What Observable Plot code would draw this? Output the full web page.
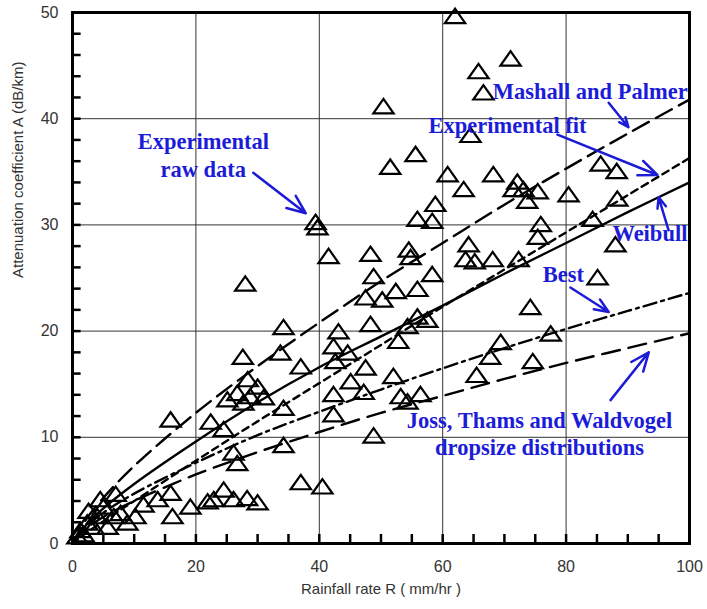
<!DOCTYPE html>
<html>
<head>
<meta charset="utf-8">
<script src="https://cdn.jsdelivr.net/npm/d3@7"></script>
<script src="https://cdn.jsdelivr.net/npm/@observablehq/plot@0.6"></script>
<style>
  html, body { margin: 0; padding: 0; background: #fff; }
  #chart { width: 707px; height: 609px; }
</style>
</head>
<body>
<div id="chart"></div>
<script>
// ---- Model curves (rainfall rate R in mm/hr, attenuation A in dB/km) ----
const rainRate      = [0, 2, 5, 10, 20, 30, 40, 50, 60, 70, 80, 90, 100];
const mashallPalmer = [0, 2.1, 4.3, 7.3, 12.3, 16.7, 20.8, 24.7, 28.3, 31.9, 35.3, 38.6, 41.8];
const experimentalFit = [0, 0.9, 2.1, 4.0, 7.8, 11.5, 15.1, 18.7, 22.3, 25.8, 29.3, 32.8, 36.3];
const weibull       = [0, 1.6, 3.3, 5.6, 9.6, 13.3, 16.6, 19.5, 22.4, 25.4, 28.3, 31.2, 34.0];
const best          = [0, 1.5, 2.9, 4.7, 7.6, 10.2, 12.4, 14.5, 16.5, 18.4, 20.2, 21.9, 23.6];
const jossThams     = [0, 1.3, 2.5, 4.0, 6.5, 8.6, 10.5, 12.3, 13.9, 15.5, 17.0, 18.4, 19.8];

// ---- Experimental raw data (triangles) ----
const rawR = [62, 71, 65.8, 66.6, 50.4, 64.5, 55.6, 51.5, 60.8, 63.4, 68.2, 72.1, 71.5, 73.1, 75.4, 73.7,
  85.6, 88.2, 58.8, 58.3, 55.9, 75.9, 75.4, 80.4, 84.3, 88.3, 88.0, 85.1, 54.5, 54.8, 64.2, 63.7, 65.2,
  68.1, 72.3, 58.3, 55.9, 52.4, 50.2, 74.2, 55.9, 57.5, 54.3, 69.4, 77.5, 67.7, 74.6, 65.5,
  39.4, 39.7, 41.5, 48.3, 48.8, 47.5, 48.3, 43.1, 52.8, 42.3, 44.6, 42.6, 47.5, 52.0, 34.2, 33.7, 37.0,
  28.0, 27.6, 45.1, 47.2, 42.3, 42.3, 48.8, 28.4, 30.0, 26.7, 28.8, 31.0, 27.7, 34.2, 25.1, 22.4, 24.5,
  37.0, 40.5, 34.2, 54.3, 56.4, 53.2, 15.9, 26.1, 26.7, 24.5, 22.9, 26.1, 28.3, 30.0, 21.9, 19.1, 16.2,
  15.9, 11.5, 10.2, 13.8, 5.0, 4.0, 2.4, 1.3, 3.4, 5.7, 6.7, 7.8, 8.9, 4.5, 0.8, 1.8, 7.0, 2.6];
const rawA = [49.6, 45.6, 44.4, 42.4, 41.1, 38.4, 36.6, 35.4, 34.7, 33.3, 34.7, 34.0, 33.3, 33.3, 33.1, 32.2,
  35.7, 35.0, 31.9, 30.3, 30.5, 30.0, 28.8, 32.8, 30.5, 32.4, 28.1, 25.0, 27.6, 26.9, 28.1, 26.7, 26.5,
  26.7, 26.7, 25.3, 23.9, 23.7, 22.9, 22.2, 21.3, 21.0, 20.4, 18.9, 19.7, 17.5, 17.1, 15.8,
  30.2, 29.7, 27.0, 27.2, 25.1, 23.1, 20.6, 19.9, 19.0, 18.5, 17.9, 17.1, 16.5, 15.7, 20.3, 17.9, 16.6,
  24.4, 17.5, 15.2, 14.2, 14.0, 12.1, 10.1, 15.4, 14.7, 14.1, 13.8, 13.7, 13.2, 12.7, 13.5, 11.4, 10.7,
  5.7, 5.3, 9.2, 13.3, 14.0, 13.8, 11.6, 8.5, 7.5, 5.0, 4.1, 4.1, 4.2, 3.8, 3.9, 3.4, 2.5,
  4.7, 3.6, 2.5, 4.1, 3.4, 2.5, 1.9, 1.2, 1.5, 1.5, 2.5, 2.8, 1.9, 4.1, 0.6, 0.8, 4.6, 3.0];

// ---- Axis ticks ----
const xTicks = [0, 20, 40, 60, 80, 100];
const yTicks = [0, 10, 20, 30, 40, 50];
const xMinorTicks = d3.range(5, 100, 5);
const yMinorTicks = d3.range(2, 50, 2);

// ---- Annotations ----
const labelText = ["Experimental", "raw data", "Mashall and Palmer", "Experimental fit", "Weibull", "Best",
  "Joss, Thams and Waldvogel", "dropsize distributions"];
const labelX = [21.2, 21.2, 68.1, 57.7, 87.5, 76.2, 75.7, 75.7];
const labelY = [37.8, 35.2, 42.5, 39.3, 29.2, 25.3, 11.6, 9.0];
const labelAnchor = ["middle", "middle", "start", "start", "start", "start", "middle", "middle"];
const arrowX1 = [29.3, 86.9, 78.6, 96.6, 80.7, 87.2];
const arrowY1 = [34.9, 41.5, 38.5, 29.5, 24.1, 13.5];
const arrowX2 = [37.8, 90.1, 94.8, 95.0, 86.9, 93.4];
const arrowY2 = [31.1, 39.2, 34.7, 32.6, 21.8, 18.0];

// ---- Build tables ----
const curve = (vals) => rainRate.map((r, i) => ({R: r, A: vals[i]}));
const rawData = rawR.map((r, i) => ({R: r, A: rawA[i]}));
const labels = labelText.map((t, i) => ({t, x: labelX[i], y: labelY[i], a: labelAnchor[i]}));
const arrows = arrowX1.map((x1, i) => ({x1, y1: arrowY1[i], x2: arrowX2[i], y2: arrowY2[i]}));

const blue = "#1c1cd8";
const triangle = {
  draw(ctx, size) {
    const r = Math.sqrt(size / Math.PI);
    ctx.moveTo(0, -r * 1.15);
    ctx.lineTo(r * 1.45, r * 0.9);
    ctx.lineTo(-r * 1.45, r * 0.9);
    ctx.closePath();
  }
};

const lineOpts = {x: "R", y: "A", stroke: "black", strokeWidth: 2.4, curve: "catmull-rom"};
const labelFont = {fill: blue, fontFamily: "Liberation Serif, Times New Roman, serif", fontWeight: "bold", fontSize: 22.5};

const chart = Plot.plot({
  width: 707,
  height: 609,
  marginLeft: 72,
  marginRight: 18,
  marginTop: 12,
  marginBottom: 66,
  x: {domain: [0, 100]},
  y: {domain: [0, 50]},
  style: {background: "white", fontFamily: "Liberation Sans, Arial, sans-serif"},
  marks: [
    Plot.gridX(xTicks.slice(1, -1), {stroke: "#333", strokeOpacity: 1, strokeWidth: 1}),
    Plot.gridY(yTicks.slice(1, -1), {stroke: "#333", strokeOpacity: 1, strokeWidth: 1}),
    Plot.axisX(xTicks, {tickSize: 0, tickPadding: 17, fontSize: 16, fill: "#333", label: null}),
    Plot.axisY(yTicks, {tickSize: 0, tickPadding: 14, fontSize: 16, fill: "#333", label: null}),
    Plot.line(curve(mashallPalmer), {...lineOpts, strokeDasharray: "18,8"}),
    Plot.line(curve(experimentalFit), {...lineOpts, strokeDasharray: "7,5"}),
    Plot.line(curve(weibull), {...lineOpts}),
    Plot.line(curve(best), {...lineOpts, strokeDasharray: "13,5,3,5"}),
    Plot.line(curve(jossThams), {...lineOpts, strokeDasharray: "18,9"}),
    Plot.dot(rawData, {x: "R", y: "A", symbol: triangle, r: 7, stroke: "black", strokeWidth: 2.2, fill: "none"}),
    Plot.frame({stroke: "black", strokeWidth: 3}),
    // inward minor ticks
    Plot.ruleX(xMinorTicks, {x: (d) => d, y1: 0, y2: 0.85, stroke: "black", strokeWidth: 2.5}),
    Plot.ruleY(yMinorTicks, {y: (d) => d, x1: 0, x2: 1.4, stroke: "black", strokeWidth: 2.5}),
    Plot.text([0], {frameAnchor: "bottom", dy: 50, text: () => "Rainfall rate R ( mm/hr )", fontSize: 15, fill: "#333"}),
    Plot.text([0], {frameAnchor: "left", dx: -54, rotate: -90, text: () => "Attenuation coefficient A (dB/km)", fontSize: 15, fill: "#333"}),
    Plot.text(labels.filter((d) => d.a === "middle"), {x: "x", y: "y", text: "t", textAnchor: "middle", ...labelFont}),
    Plot.text(labels.filter((d) => d.a === "start"), {x: "x", y: "y", text: "t", textAnchor: "start", ...labelFont}),
    Plot.arrow(arrows, {x1: "x1", y1: "y1", x2: "x2", y2: "y2", stroke: blue, strokeWidth: 2.5, headLength: 12, headAngle: 45})
  ]
});
document.getElementById("chart").appendChild(chart);
</script>
</body>
</html>
